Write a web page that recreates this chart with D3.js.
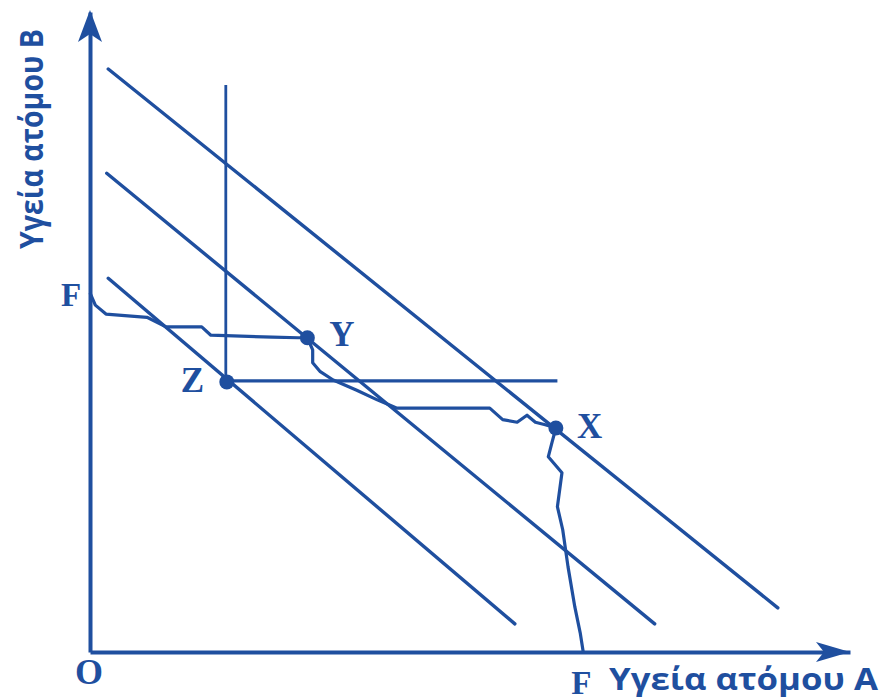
<!DOCTYPE html>
<html>
<head>
<meta charset="utf-8">
<script src="https://cdn.jsdelivr.net/npm/d3@7"></script>
<style>
  body { margin: 0; background: #fff; }
</style>
</head>
<body>
<div id="chart"></div>
<script>
// Chart values (units of health, 0-100 on both axes)
const xLabel = "Υγεία ατόμου A";
const yLabel = "Υγεία ατόμου B";

// Three parallel social welfare lines: [start, end]
const welfareLines = [
  [[2.4, 91.1], [90.5, 6.9]],
  [[2.2, 74.8], [74.3, 4.4]],
  [[2.4, 58.4], [55.9, 4.4]]
];

// Utility possibility frontier FF (hand drawn)
const frontierA = [0, 0.7, 2.1, 7.5, 10.0, 14.7, 15.9, 24.0, 27.4, 28.6, 29.3, 29.3, 30.3, 32.0, 35.1,
  37.8, 40.4, 44.3, 52.6, 54.3, 56.2, 57.5, 58.6, 59.9, 61.3, 60.8, 60.3, 62.1, 61.5, 62.2, 62.9, 63.8, 64.5, 64.9];
const frontierB = [56.1, 54.2, 52.8, 52.3, 50.8, 50.8, 49.5, 49.2, 49.1, 49.1, 47.2, 45.2, 43.8, 42.5, 40.9,
  39.4, 38.1, 38.1, 38.1, 36.3, 35.9, 37.0, 35.9, 35.5, 35.0, 32.8, 30.5, 28.0, 22.7, 19.1, 13.3, 7.0, 3.0, 0];

// Points on the frontier
const pointNames = ["Y", "Z", "X"];
const pointA = [28.6, 18.0, 61.3];
const pointB = [49.1, 42.2, 35.0];

// Rawlsian L: vertical top and horizontal end from Z
const rawlsTopB = 88.6;
const rawlsEndA = 61.5;

const color = "#1f4f9f";
const width = 880, height = 699;

const x = d3.scaleLinear().domain([0, 100]).range([90, 850]);
const y = d3.scaleLinear().domain([0, 100]).range([652, 12]);

const svg = d3.select("#chart").append("svg")
    .attr("width", width)
    .attr("height", height);

// Axes (domain lines only)
svg.append("g")
    .attr("transform", `translate(0,${y(0)})`)
    .call(d3.axisBottom(x).tickValues([]).tickSizeOuter(0));
svg.append("g")
    .attr("transform", `translate(${x(0)},0)`)
    .call(d3.axisLeft(y).tickValues([]).tickSizeOuter(0));
svg.selectAll(".domain")
    .attr("stroke", color)
    .attr("stroke-width", 4);

// Arrow heads
const xt = [x(100), y(0)];
svg.append("path")
    .attr("d", `M${xt[0]},${xt[1]} L${xt[0] - 34},${xt[1] - 10} L${xt[0] - 26},${xt[1]} L${xt[0] - 34},${xt[1] + 10} Z`)
    .attr("fill", color);
const yt = [x(0), y(100)];
svg.append("path")
    .attr("d", `M${yt[0]},${yt[1] - 2} L${yt[0] - 12},${yt[1] + 30} L${yt[0]},${yt[1] + 22} L${yt[0] + 12},${yt[1] + 30} Z`)
    .attr("fill", color);

// Welfare lines
svg.selectAll(".welfare")
  .data(welfareLines)
  .join("line")
    .attr("class", "welfare")
    .attr("x1", d => x(d[0][0]))
    .attr("y1", d => y(d[0][1]))
    .attr("x2", d => x(d[1][0]))
    .attr("y2", d => y(d[1][1]))
    .attr("stroke", color)
    .attr("stroke-width", 3.4)
    .attr("stroke-linecap", "round");

// Rawlsian lines from Z
svg.append("line")
    .attr("x1", x(pointA[1]) - 1)
    .attr("x2", x(pointA[1]) - 1)
    .attr("y1", y(rawlsTopB))
    .attr("y2", y(pointB[1]))
    .attr("stroke", color)
    .attr("stroke-width", 2.8);
svg.append("line")
    .attr("x1", x(pointA[1]))
    .attr("x2", x(rawlsEndA))
    .attr("y1", y(pointB[1]) - 1)
    .attr("y2", y(pointB[1]) - 1)
    .attr("stroke", color)
    .attr("stroke-width", 3.2);

// Frontier FF
const frontier = frontierA.map((a, i) => ({ a: a, b: frontierB[i] }));
svg.append("path")
    .datum(frontier)
    .attr("fill", "none")
    .attr("stroke", color)
    .attr("stroke-width", 3.2)
    .attr("stroke-linejoin", "round")
    .attr("d", d3.line().x(d => x(d.a)).y(d => y(d.b)));

// Points
const points = pointNames.map((n, i) => ({ name: n, a: pointA[i], b: pointB[i] }));
svg.selectAll(".pt")
  .data(points)
  .join("circle")
    .attr("class", "pt")
    .attr("cx", d => x(d.a))
    .attr("cy", d => y(d.b))
    .attr("r", 7.5)
    .attr("fill", color);

// Point labels
const labelOffset = { Y: [22, 8], Z: [-46, 10], X: [21, 10] };
svg.selectAll(".ptlabel")
  .data(points)
  .join("text")
    .attr("class", "ptlabel")
    .attr("x", d => x(d.a) + labelOffset[d.name][0])
    .attr("y", d => y(d.b) + labelOffset[d.name][1])
    .attr("font-family", "Liberation Serif, serif")
    .attr("font-weight", "bold")
    .attr("font-size", 35)
    .attr("fill", color)
    .text(d => d.name);

// F, F and O
const serif = (tx, ty, s, fs) => svg.append("text")
    .attr("x", tx).attr("y", ty)
    .attr("font-family", "Liberation Serif, serif")
    .attr("font-weight", "bold")
    .attr("font-size", fs)
    .attr("fill", color)
    .text(s);
serif(x(0) - 29, y(frontierB[0]) + 13, "F", 33);
serif(x(frontierA[frontierA.length - 1]) - 12, 694, "F", 33);
serif(x(0) - 15, 684, "O", 36);

// Axis titles
svg.append("text")
    .attr("x", 609)
    .attr("y", 690)
    .attr("font-family", "Open Sans, sans-serif")
    .attr("font-weight", "bold")
    .attr("font-size", 30)
    .attr("textLength", 269)
    .attr("lengthAdjust", "spacingAndGlyphs")
    .attr("fill", color)
    .text(xLabel);

svg.append("text")
    .attr("transform", "translate(43,139) rotate(-90)")
    .attr("text-anchor", "middle")
    .attr("font-family", "Open Sans, sans-serif")
    .attr("font-weight", "bold")
    .attr("font-size", 33)
    .attr("textLength", 220)
    .attr("lengthAdjust", "spacingAndGlyphs")
    .attr("fill", color)
    .text(yLabel);
</script>
</body>
</html>
